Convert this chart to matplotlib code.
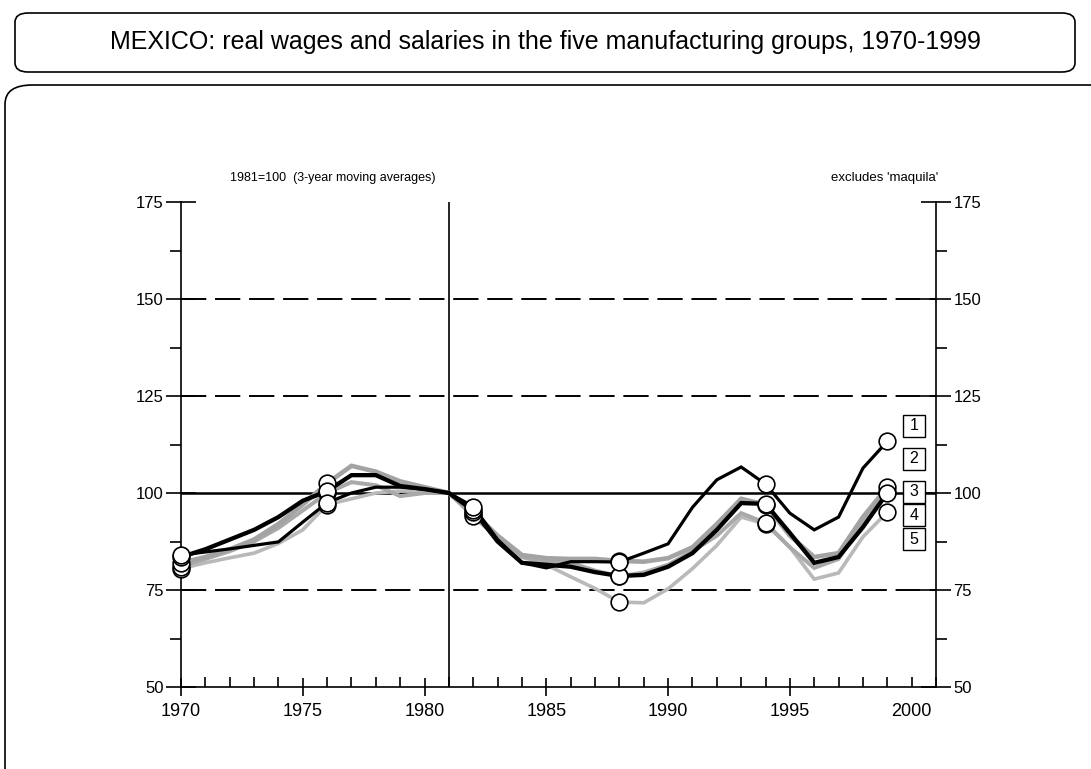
import matplotlib
matplotlib.use("Agg")
import matplotlib.pyplot as plt
import matplotlib.lines as mlines
from matplotlib.patches import FancyBboxPatch
from matplotlib.ticker import MultipleLocator, FixedLocator

# Data: real wages, 1981=100, 3-year moving averages
years = list(range(1970, 2000))

group1 = [84.0, 84.8, 85.6, 86.5, 87.4, 92.5, 97.5, 100.0, 101.5, 101.5,
          101.0, 100.0, 96.5, 88.0, 82.0, 80.7, 82.3, 82.3, 82.2, 84.5,
          86.9, 96.3, 103.4, 106.7, 102.3, 94.8, 90.5, 93.8, 106.4, 113.3]
group2 = [82.0, 83.5, 85.5, 88.0, 92.0, 97.0, 102.5, 107.0, 105.5, 103.0,
          101.5, 100.0, 95.0, 89.0, 84.0, 83.2, 83.0, 83.0, 82.5, 82.3,
          83.2, 86.0, 92.0, 98.5, 97.0, 89.0, 83.5, 84.5, 93.8, 101.5]
group3 = [83.5, 85.5, 88.0, 90.5, 93.8, 98.0, 100.5, 104.6, 104.6, 101.8,
          101.0, 100.0, 95.5, 87.5, 82.0, 81.5, 81.0, 79.6, 78.6, 78.9,
          81.0, 84.5, 90.5, 97.4, 97.2, 89.7, 82.0, 83.5, 91.2, 100.0]
group4 = [81.0, 83.0, 85.0, 87.5, 91.0, 95.5, 100.0, 102.8, 102.0, 99.2,
          100.0, 100.0, 94.0, 88.5, 83.5, 82.5, 82.0, 80.0, 78.5, 79.5,
          81.5, 85.0, 89.0, 94.8, 92.3, 86.0, 80.7, 83.0, 92.5, 100.3]
group5 = [80.5, 82.0, 83.3, 84.5, 87.0, 90.5, 97.0, 98.5, 100.0, 100.5,
          100.5, 100.0, 94.5, 88.5, 83.5, 81.5, 78.4, 75.4, 71.9, 71.7,
          75.3, 80.5, 86.5, 93.8, 92.0, 86.0, 77.8, 79.4, 88.7, 95.1]

marker_years = [1970, 1976, 1982, 1988, 1994, 1999]
group_labels = ["1", "2", "3", "4", "5"]
label_y = [117.3, 108.8, 100.3, 94.3, 88.1]
label_x = 2000.1

fig = plt.figure(figsize=(10.91, 7.69), dpi=100)
fw, fh = 1091, 769
ax = fig.add_axes([181 / fw, 1 - 687 / fh, (936 - 181) / fw, (687 - 202) / fh])

# rounded frames
fig.patches.append(FancyBboxPatch((15 / fw, 1 - 72 / fh), 1060 / fw, 59 / fh,
                                  boxstyle="round,pad=0,rounding_size=0.012",
                                  transform=fig.transFigure, fc="none", ec="black", lw=1.2))
fig.patches.append(FancyBboxPatch((5 / fw, 1 - 790 / fh), 1120 / fw, 705 / fh,
                                  boxstyle="round,pad=0,rounding_size=0.025",
                                  transform=fig.transFigure, fc="none", ec="black", lw=1.2))

fig.text(0.5, 1 - 42 / fh, "MEXICO: real wages and salaries in the five manufacturing groups, 1970-1999",
         ha="center", va="center", fontsize=18, family=["Liberation Sans", "DejaVu Sans"])
small_font = ["Liberation Sans Narrow", "Liberation Sans", "DejaVu Sans"]
fig.text(230 / fw, 1 - 178 / fh, "1981=100  (3-year moving averages)", ha="left", va="center",
         fontsize=9, family=small_font)
fig.text(885 / fw, 1 - 178 / fh, "excludes 'maquila'", ha="center", va="center",
         fontsize=9.5, family=small_font)

# reference lines
for v in [75, 125, 150]:
    ax.axhline(v, color="black", lw=1.4, ls=(0, (13, 4.5)), zorder=1)
ax.axhline(100, color="black", lw=1.8, zorder=1)
ax.axvline(1981, color="black", lw=1.2, zorder=1)

styles = [
    (group5, "#b9b9b9", 2.6),
    (group4, "#a9a9a9", 2.9),
    (group2, "#a3a3a3", 3.3),
    (group3, "#000000", 3.1),
    (group1, "#000000", 2.3),
]
for vals, col, lw in styles:
    ax.plot(years, vals, color=col, lw=lw, zorder=3, solid_joinstyle="miter")

idx = [years.index(y) for y in marker_years]
for vals in [group5, group4, group2, group3, group1]:
    ax.plot(marker_years, [vals[i] for i in idx], ls="none", marker="o", ms=12,
            mfc="white", mec="black", mew=1.2, zorder=5, clip_on=False)

# series number boxes
ax.plot([label_x] * len(label_y), label_y, ls="none", marker="s", ms=15.5,
        mfc="white", mec="black", mew=1.0, zorder=6, clip_on=False)
for lab, y in zip(group_labels, label_y):
    ax.text(label_x, y, lab, ha="center", va="center", fontsize=11.5, zorder=7,
            family=["Liberation Sans", "DejaVu Sans"])

ax.set_xlim(1970, 2001)
ax.set_ylim(50, 175)
ax.spines["top"].set_visible(False)
for s in ["left", "right", "bottom"]:
    ax.spines[s].set_linewidth(1.2)

ax.xaxis.set_major_locator(FixedLocator([1970, 1975, 1980, 1985, 1990, 1995, 2000]))
ax.xaxis.set_minor_locator(MultipleLocator(1))
ax.yaxis.set_major_locator(MultipleLocator(25))
ax.yaxis.set_minor_locator(MultipleLocator(12.5))

ax.tick_params(axis="x", which="major", direction="inout", length=13, width=1.2,
               labelsize=13, pad=5)
ax.tick_params(axis="x", which="minor", direction="in", length=7, width=1.2)
ax.tick_params(axis="y", which="major", direction="inout", length=21, width=1.2,
               labelsize=12, left=True, right=True, labelleft=True, labelright=True, pad=2)
ax.tick_params(axis="y", which="minor", direction="out", length=8, width=1.2,
               left=True, right=True)
for lab in ax.get_xticklabels() + ax.get_yticklabels():
    lab.set_family(["Liberation Sans", "DejaVu Sans"])

# the 2000 tick is drawn like a minor one
t2000 = ax.xaxis.get_major_ticks()[-1]
t2000.tick1line.set_marker(mlines.TICKUP)
t2000.tick1line.set_markersize(7)

ax.set_facecolor("none")
fig.savefig("out.png", dpi=100)
